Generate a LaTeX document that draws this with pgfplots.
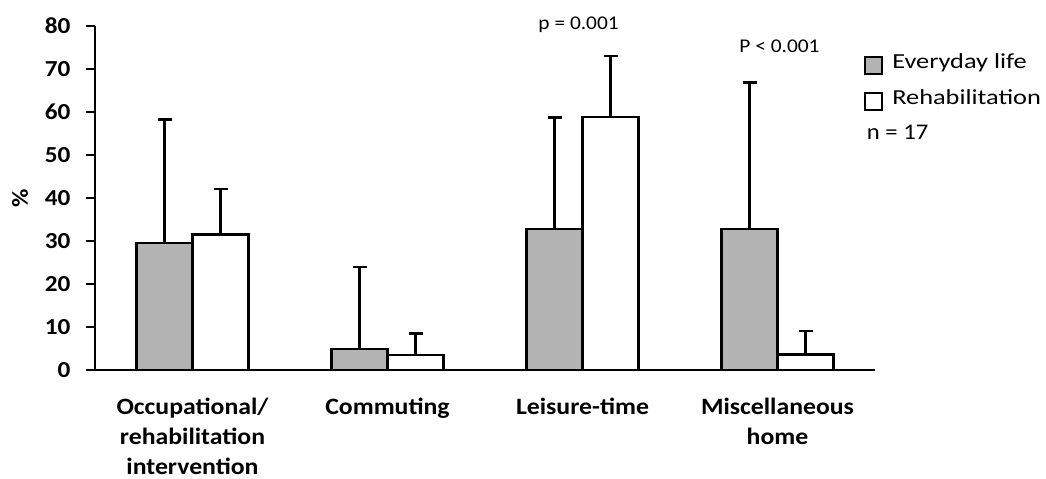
\documentclass[border=0pt]{standalone}
\usepackage{fontspec}
\setmainfont[FakeStretch=1.1]{Carlito}
\newfontfamily\legendfont[FakeStretch=1.23]{Carlito}
\usepackage{pgfplots}
\pgfplotsset{compat=1.18}
\definecolor{lifegray}{RGB}{179,179,179}

\begin{document}
\begin{tikzpicture}[x=1bp,y=1bp]
\useasboundingbox (0,0) rectangle (1046,479);
\begin{axis}[
  at={(95bp,109bp)}, anchor=south west,
  scale only axis, width=780bp, height=344.3bp,
  xmin=-0.5, xmax=3.5, ymin=0, ymax=80,
  axis lines=left,
  axis line style={-, line width=2bp, black},
  clip=false,
  ytick={0,10,...,80},
  tick align=outside,
  major tick length=9bp,
  ytick style={line width=2bp, black},
  xtick={0,1,2,3},
  xtick style={draw=none},
  xticklabels={{Occupational/\\rehabilitation\\intervention},Commuting,Leisure-time,{Miscellaneous\\home}},
  /pgf/number format/assume math mode=true,
  yticklabel style={font=\bfseries\fontsize{23}{28}\selectfont, xshift=-12bp},
  xticklabel style={font=\bfseries\fontsize{23.5}{30}\selectfont, align=center, yshift=-16bp},
  ylabel={\%},
  ylabel style={font=\bfseries\fontsize{23}{28}\selectfont, at={(axis description cs:-0.0962,0.5)}, anchor=center},
  ybar=0pt, bar width=56bp,
  error bars/y dir=plus,
  error bars/y explicit,
  legend style={draw=none, fill=none, at={(axis description cs:0.986,0.925)}, anchor=north west,
    font=\legendfont\fontsize{21.5}{26}\selectfont, row sep=13bp, column sep=7bp, inner sep=0pt},
  legend cell align=left,
  legend image code/.code={\draw[#1, line width=2bp] (0bp,-12bp) rectangle (17bp,5bp);},
]
% Everyday life
\addplot[fill=lifegray, draw=black, line width=2.2bp,
  error bars/.cd,
    error bar style={/tikz/line width=2.4bp, /tikz/draw=black},
    error mark options={rotate=90, mark size=7bp, /tikz/line width=2.4bp, /tikz/draw=black}]
  coordinates {
  (0,29.6) += (0,28.6)
  (1,4.8)  += (0,19.2)
  (2,32.7) += (0,26.0)
  (3,32.7) += (0,34.1)
};
% Rehabilitation
\addplot[fill=white, draw=black, line width=2.2bp,
  error bars/.cd,
    error bar style={/tikz/line width=2.4bp, /tikz/draw=black},
    error mark options={rotate=90, mark size=7bp, /tikz/line width=2.4bp, /tikz/draw=black}]
  coordinates {
  (0,31.5) += (0,10.5)
  (1,3.5)  += (0,5.0)
  (2,58.7) += (0,14.3)
  (3,3.6)  += (0,5.5)
};
\legend{Everyday life, Rehabilitation}
\node[font=\fontsize{19.5}{23}\selectfont] at (axis cs:1.98,80.2) {p = 0.001};
\node[font=\fontsize{19.5}{23}\selectfont] at (axis cs:3.01,75.3) {P < 0.001};
\end{axis}
\node[anchor=base west, inner sep=0pt, font=\fontsize{22.5}{27}\selectfont] at (866.7,339) {n = 17};
\end{tikzpicture}
\end{document}
